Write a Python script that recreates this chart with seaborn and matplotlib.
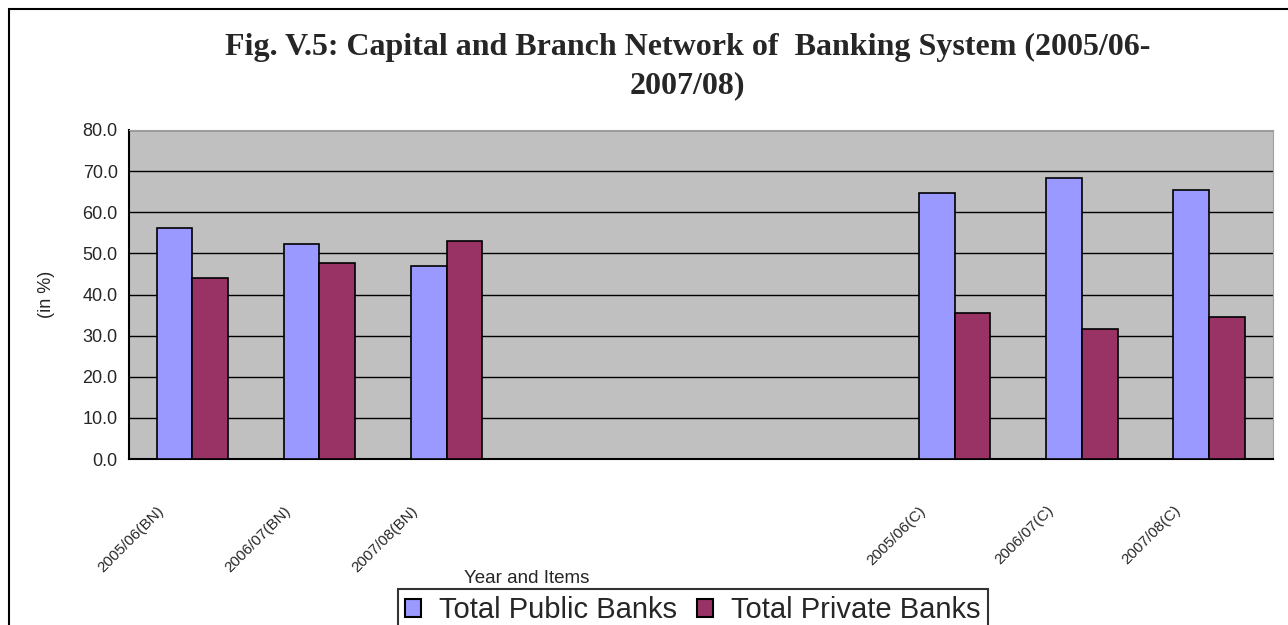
import numpy as np
import pandas as pd
import matplotlib
matplotlib.use("Agg")
import matplotlib.pyplot as plt
import matplotlib.transforms as mtransforms
from matplotlib.patches import Rectangle
import seaborn as sns

# data
years_items = ["2005/06(BN)", "2006/07(BN)", "2007/08(BN)",
               "2005/06(C)", "2006/07(C)", "2007/08(C)"]
public_banks = [56.1, 52.4, 47.0, 64.6, 68.4, 65.5]
private_banks = [43.9, 47.6, 53.0, 35.4, 31.6, 34.5]
series_names = ["Total Public Banks", "Total Private Banks"]
y_ticks = [0, 10, 20, 30, 40, 50, 60, 70, 80]

# three empty slots between the branch (BN) and capital (C) groups
order = years_items[:3] + ["gap1", "gap2", "gap3"] + years_items[3:]
tick_labels = [c if c in years_items else "" for c in order]

df = pd.DataFrame({
    "item": years_items * 2,
    "value": public_banks + private_banks,
    "bank": [series_names[0]] * len(years_items) + [series_names[1]] * len(years_items),
})

sns.set_style("white")
plt.rcParams["font.family"] = ["Liberation Sans", "DejaVu Sans"]

fig = plt.figure(figsize=(12.88, 6.25), dpi=100)
ax = fig.add_axes([0.1, 0.2656, 0.888, 0.5264])

ax.set_facecolor("#C0C0C0")
sns.barplot(data=df, x="item", y="value", hue="bank", order=order,
            hue_order=series_names, palette=["#9999FF", "#993366"],
            width=0.56, gap=0, edgecolor="black", linewidth=1.2,
            saturation=1, ax=ax, zorder=3)

ax.set_ylim(0, 80)
ax.set_xlim(-0.5, len(order) - 0.5)
ax.set_yticks(y_ticks)
ax.set_yticklabels([f"{v:.1f}" for v in y_ticks], fontsize=13)
ax.yaxis.grid(True, color="black", linewidth=1)
ax.set_axisbelow(True)
ax.tick_params(axis="y", direction="out", length=5, width=1.2, color="black", pad=3)

# boundary ticks, labels at category centres
pos = np.arange(len(order))
ax.set_xticks(np.arange(len(order) + 1) - 0.5)
ax.set_xticklabels([])
ax.tick_params(axis="x", which="major", direction="out", length=6, width=1.2, color="black")
ax.set_xticks(pos, minor=True)
ax.set_xticklabels(tick_labels, minor=True, rotation=45, ha="right", va="top", fontsize=11)
ax.tick_params(axis="x", which="minor", length=0, pad=32)
shift = mtransforms.ScaledTranslation(-0.26, 0, fig.dpi_scale_trans)
for lab in ax.get_xticklabels(minor=True):
    lab.set_transform(lab.get_transform() + shift)

ax.set_xlabel("")
ax.set_ylabel("(in %)", fontsize=13, labelpad=20)

for side in ["left", "bottom"]:
    ax.spines[side].set_color("black")
    ax.spines[side].set_linewidth(1.5)
for side in ["top", "right"]:
    ax.spines[side].set_color("#A0A0A0")
    ax.spines[side].set_linewidth(0.8)

fig.text(527 / 1288, 0.075, "Year and Items", fontsize=13.5, ha="center", va="center")

fig.suptitle("Fig. V.5: Capital and Branch Network of  Banking System (2005/06-\n2007/08)",
             family=["Liberation Serif", "DejaVu Serif"], fontweight="bold",
             fontsize=23, x=0.534, y=0.947, va="top", linespacing=1.4)

handles, labels = ax.get_legend_handles_labels()
ax.get_legend().remove()
leg = fig.legend(handles, labels, loc="upper center", bbox_to_anchor=(0.538, 1 - 589 / 625),
                 ncol=2, fontsize=21, frameon=True, fancybox=False, shadow=False,
                 handlelength=0.55, handleheight=0.55, handletextpad=0.6,
                 columnspacing=0.7, borderpad=0.25, borderaxespad=0)
leg.get_frame().set_edgecolor("black")
leg.get_frame().set_linewidth(1.5)
for h in leg.legend_handles:
    h.set_edgecolor("black")
    h.set_linewidth(1.5)

# chart area border
fig.patches.append(Rectangle((9 / 1288, -0.02), 1.02, 0.9856 + 0.02,
                             transform=fig.transFigure, fill=False,
                             edgecolor="black", linewidth=1.5, zorder=-1))

fig.savefig("out.png", dpi=100)
